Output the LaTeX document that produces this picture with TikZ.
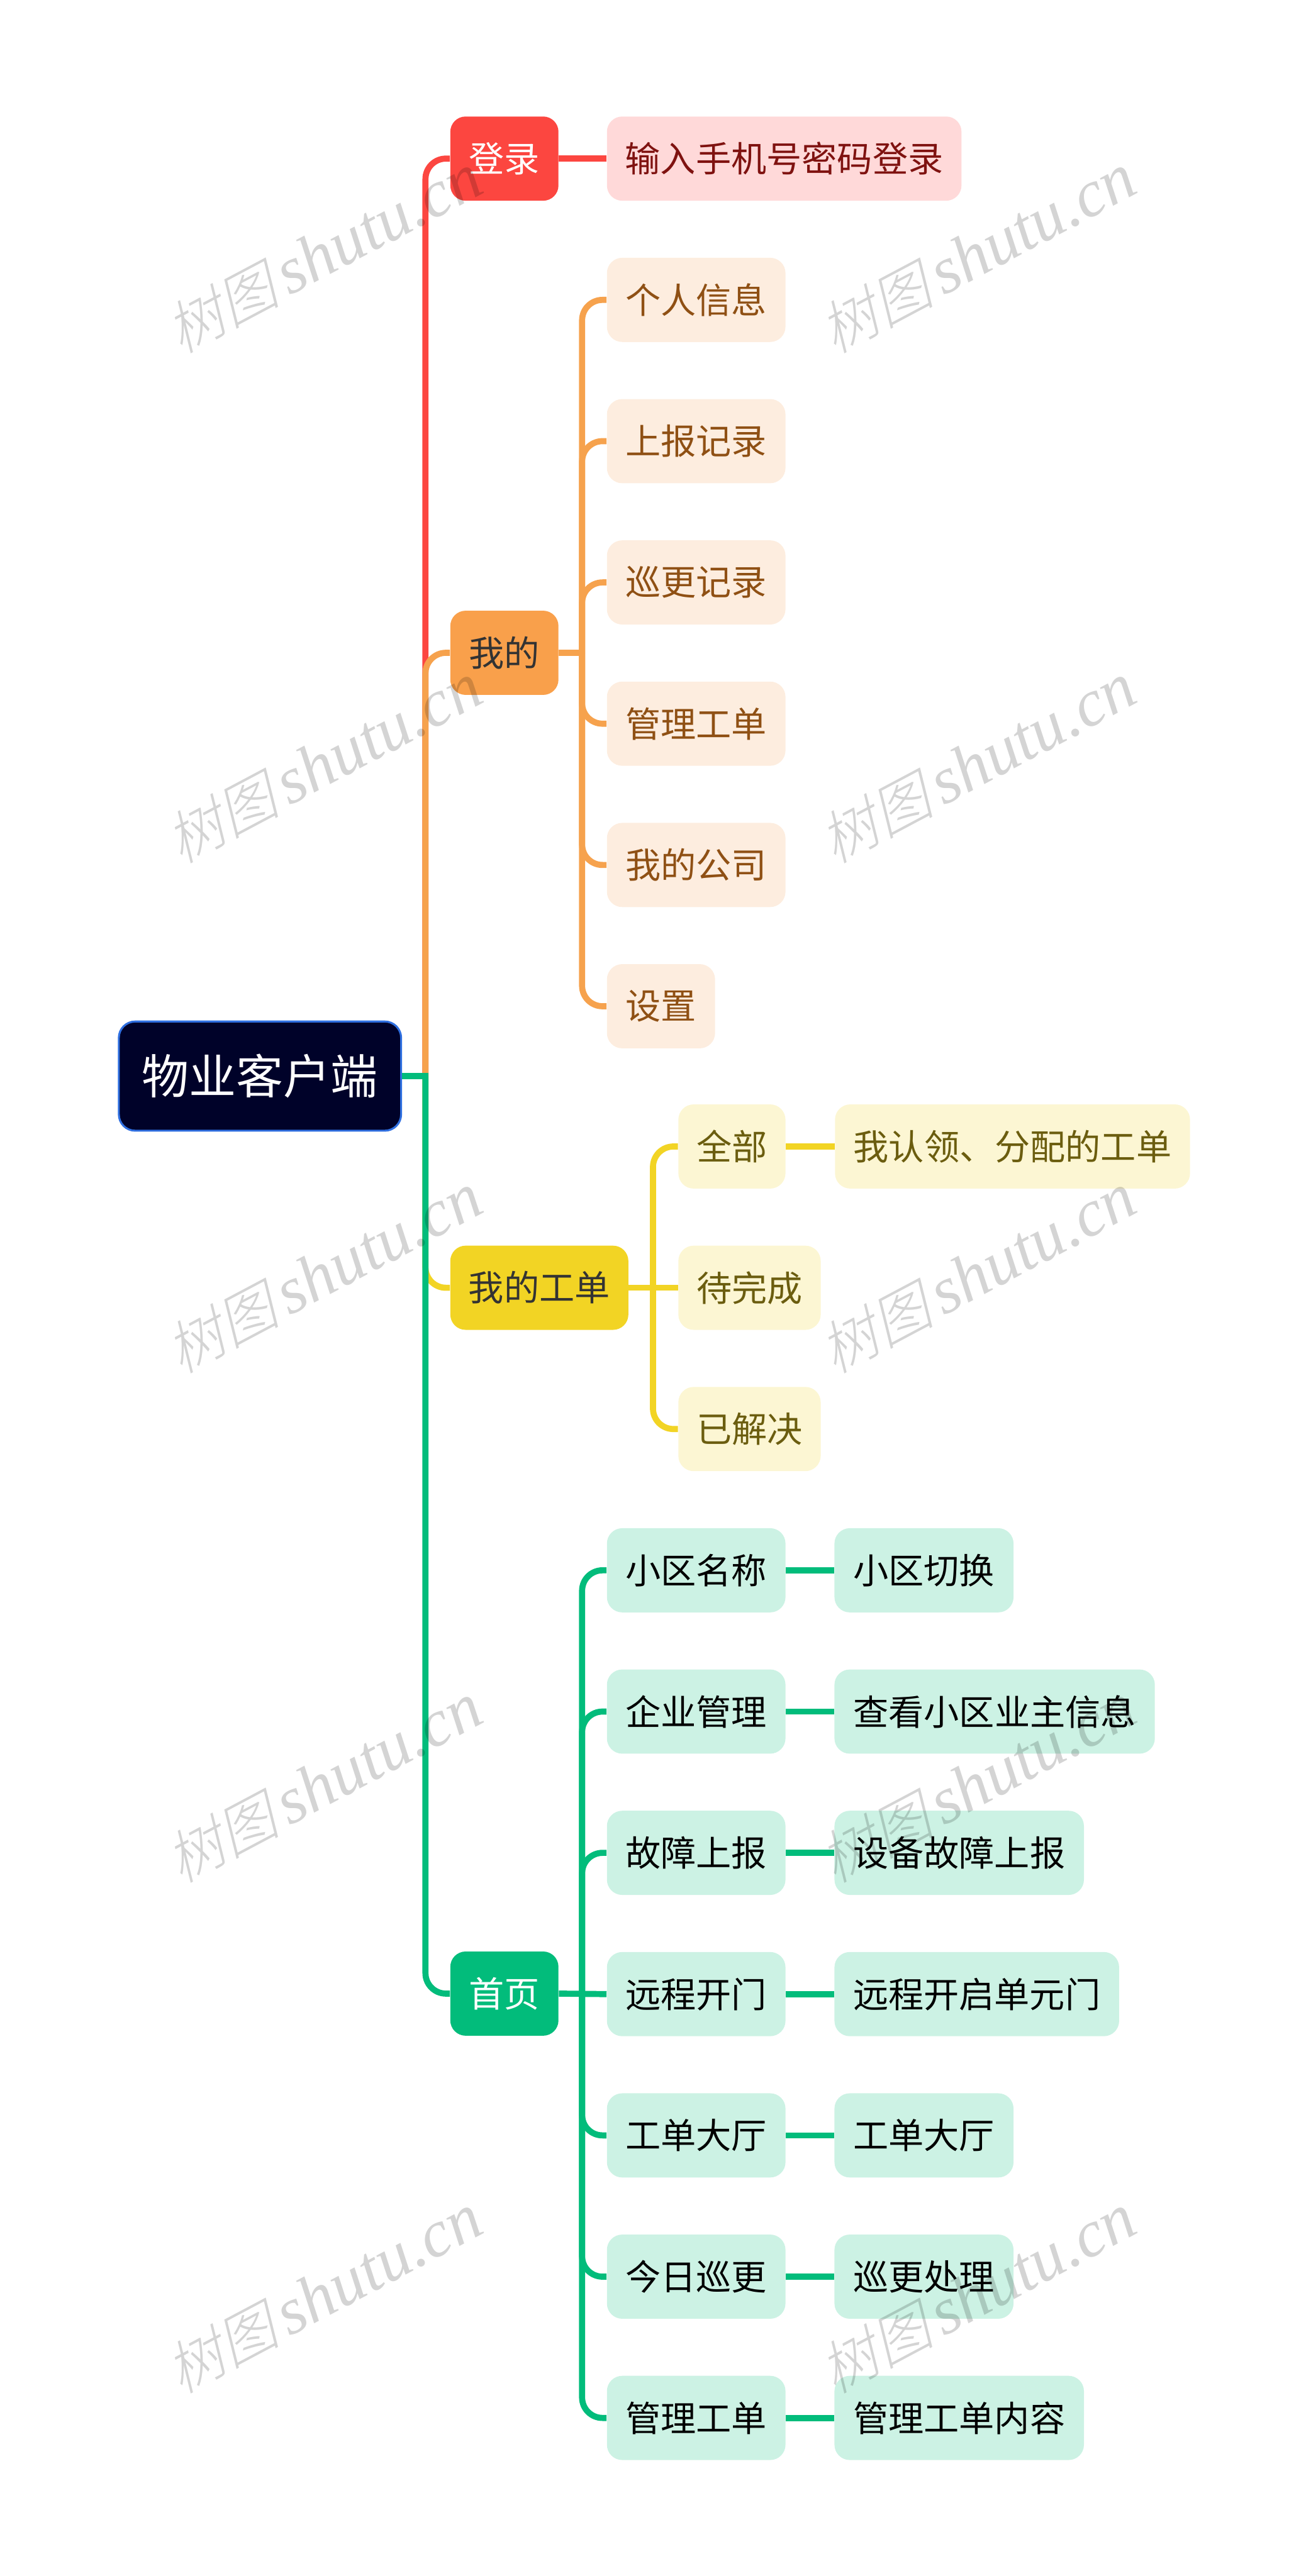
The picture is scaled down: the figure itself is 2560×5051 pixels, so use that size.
\documentclass[tikz,border=0pt]{standalone}
\usepackage{fontspec}
\setmainfont{Noto Sans CJK SC}
\newfontfamily\wmcjk[FakeSlant=0.25]{Noto Sans CJK SC Light}
\newfontfamily\wmlat{Liberation Serif}
\definecolor{cred}{HTML}{FC4640}
\definecolor{cora}{HTML}{F6A24D}
\definecolor{bora}{HTML}{F9A04B}
\definecolor{cyel}{HTML}{F2D424}
\definecolor{cgrn}{HTML}{02BC7B}
\definecolor{fred}{HTML}{FFD9D9}
\definecolor{fora}{HTML}{FDEDDF}
\definecolor{fyel}{HTML}{FCF6D3}
\definecolor{fgrn}{HTML}{CCF2E4}
\definecolor{tred}{HTML}{7F1210}
\definecolor{tora}{HTML}{8F5014}
\definecolor{tyel}{HTML}{6B5D0F}
\definecolor{tdark}{HTML}{333333}
\definecolor{troot}{HTML}{000229}
\definecolor{broot}{HTML}{2F6FE0}
\tikzset{
  wd/.style={minimum width=#1*0.01cm},
  box/.style={rectangle,rounded corners=0.3cm,anchor=west,inner sep=0pt,minimum height=1.65cm,font=\fontsize{19.7}{24}\selectfont},
  rootbox/.style={rectangle,rounded corners=0.32cm,anchor=west,inner sep=0pt,minimum height=2.14cm,minimum width=5.53cm,fill=troot,draw=broot,line width=1.1pt,text=white,font=\fontsize{26.3}{32}\selectfont},
  lred/.style={box,fill=cred,text=white},
  lora/.style={box,fill=bora,text=tdark},
  lyel/.style={box,fill=cyel,text=tdark},
  lgrn/.style={box,fill=cgrn,text=white},
  sred/.style={box,fill=fred,text=tred},
  sora/.style={box,fill=fora,text=tora},
  syel/.style={box,fill=fyel,text=tyel},
  sgrn/.style={box,fill=fgrn,text=black},
  conn/.style={line width=3.4pt},
  curved conn/.style={line width=3.4pt,rounded corners=0.4cm},
  wmark/.style={rotate=28,opacity=0.17,text=black,inner sep=0pt},
}
\newcommand{\wmtext}{{\fontsize{32}{40}\selectfont\wmcjk 树图}\kern 5pt{\fontsize{37}{40}\selectfont\wmlat\itshape shutu.cn}}
\begin{document}
\begin{tikzpicture}[x=0.01cm,y=-0.01cm]
\useasboundingbox (0,0) rectangle (2560,5051);
\coordinate (sa) at (834,0);
\coordinate (sb) at (1141,0);
\coordinate (sc) at (1280,0);
% nodes
\node[rootbox] (root) at (231,2110) {物业客户端};
\node[lred,wd=212] (login) at (882,311) {登录};
\node[lora,wd=212] (mine) at (882,1280) {我的};
\node[lyel,wd=349] (orders) at (882,2525) {我的工单};
\node[lgrn,wd=212] (home) at (882,3909) {首页};
\node[sred,wd=695] (a1) at (1189,311) {输入手机号密码登录};
\node[sora,wd=350] (b1) at (1189,588) {个人信息};
\node[sora,wd=350] (b2) at (1189,865) {上报记录};
\node[sora,wd=350] (b3) at (1189,1142) {巡更记录};
\node[sora,wd=350] (b4) at (1189,1419) {管理工单};
\node[sora,wd=350] (b5) at (1189,1696) {我的公司};
\node[sora,wd=212] (b6) at (1189,1973) {设置};
\node[syel,wd=210] (c1) at (1329,2248) {全部};
\node[syel,wd=279] (c2) at (1329,2525) {待完成};
\node[syel,wd=279] (c3) at (1329,2802) {已解决};
\node[syel,wd=696] (c1a) at (1636,2248) {我认领、分配的工单};
\node[sgrn,wd=350] (d1) at (1189,3079) {小区名称};
\node[sgrn,wd=350] (d2) at (1189,3356) {企业管理};
\node[sgrn,wd=350] (d3) at (1189,3633) {故障上报};
\node[sgrn,wd=350] (d4) at (1189,3910) {远程开门};
\node[sgrn,wd=350] (d5) at (1189,4187) {工单大厅};
\node[sgrn,wd=350] (d6) at (1189,4464) {今日巡更};
\node[sgrn,wd=350] (d7) at (1189,4741) {管理工单};
\node[sgrn,wd=351] (e1) at (1635,3079) {小区切换};
\node[sgrn,wd=628] (e2) at (1635,3356) {查看小区业主信息};
\node[sgrn,wd=489] (e3) at (1635,3633) {设备故障上报};
\node[sgrn,wd=558] (e4) at (1635,3910) {远程开启单元门};
\node[sgrn,wd=351] (e5) at (1635,4187) {工单大厅};
\node[sgrn,wd=351] (e6) at (1635,4464) {巡更处理};
\node[sgrn,wd=489] (e7) at (1635,4741) {管理工单内容};
% main spine, bottom colours over top ones
\draw[curved conn,cred] (sa |- root.east) -- (sa |- login.west) -- (login.west);
\draw[curved conn,cora] (sa |- root.east) -- (sa |- mine.west) -- (mine.west);
\draw[curved conn,cyel] (sa |- root.east) -- (sa |- orders.west) -- (orders.west);
\draw[curved conn,cgrn] (sa |- root.east) -- (sa |- home.west) -- (home.west);
\draw[conn,cgrn] (root.east) -- ([xshift=0.06cm]sa |- root.east);
% sub branches
\draw[conn,cred] (login.east) -- (a1.west);
\foreach \n in {b1,b2,b3,b4,b5,b6}
  \draw[curved conn,cora] (sb |- mine.east) -- (sb |- \n.west) -- (\n.west);
\draw[conn,cora] (mine.east) -- ([xshift=0.06cm]sb |- mine.east);
\draw[curved conn,cyel] (sc |- orders.east) -- (sc |- c1.west) -- (c1.west);
\draw[curved conn,cyel] (sc |- orders.east) -- (sc |- c3.west) -- (c3.west);
\draw[conn,cyel] (orders.east) -- (c2.west);
\draw[conn,cyel] (c1.east) -- (c1a.west);
\foreach \n in {d1,d2,d3,d5,d6,d7}
  \draw[curved conn,cgrn] (sb |- home.east) -- (sb |- \n.west) -- (\n.west);
\draw[conn,cgrn] (home.east) -- (d4.west);
\foreach \n/\m in {d1/e1,d2/e2,d3/e3,d4/e4,d5/e5,d6/e6,d7/e7}
  \draw[conn,cgrn] (\n.east) -- (\m.west);
% watermarks
\foreach \wy [count=\i] in {497,1497,2497,3497,4498}{
  \node[wmark] (wl\i) at (634,\wy) {\wmtext};
  \node[wmark] (wr\i) at (1916,\wy) {\wmtext};
}
\end{tikzpicture}
\end{document}
